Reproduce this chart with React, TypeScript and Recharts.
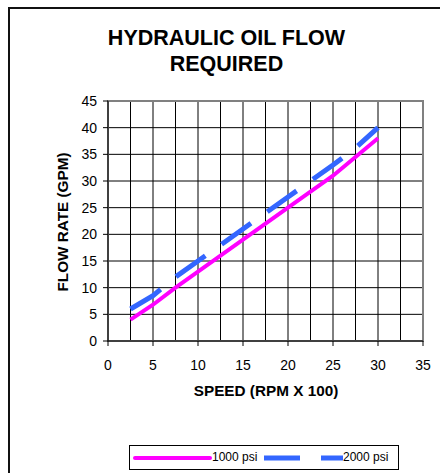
import React from 'react';
import {
  LineChart,
  Line,
  XAxis,
  YAxis,
  CartesianGrid,
  ReferenceArea,
} from 'recharts';

// Speed in RPM x 100
const SPEED = [2.5, 5, 7.5, 10, 12.5, 15, 17.5, 20, 22.5, 25, 27.5, 30];
// Flow rate in GPM
const FLOW_1000 = [4, 6.8, 10, 13, 16, 19, 22, 25, 28, 31, 34.5, 38];
const FLOW_2000 = [6, 8.5, 12, 15, 18, 21, 24, 27, 30, 33, 36.2, 40];

const X_DOMAIN = [0, 35];
const Y_DOMAIN = [0, 45];
const X_TICKS = [0, 5, 10, 15, 20, 25, 30, 35];
const Y_TICKS = [0, 5, 10, 15, 20, 25, 30, 35, 40, 45];
const GRID_X = [0, 2.5, 5, 7.5, 10, 12.5, 15, 17.5, 20, 22.5, 25, 27.5, 30, 32.5, 35];

const SERIES = [
  { key: 'p1000', name: '1000 psi', color: '#ff00ff', width: 4, dash: undefined },
  { key: 'p2000', name: '2000 psi', color: '#3366ff', width: 5, dash: '36 20' },
];

const FONT = '"Liberation Sans", Arial, sans-serif';

// vertical grid every 2.5 while the axis only labels every 5
const gridX = ({ xAxis, offset }: any) =>
  GRID_X.map((v) => {
    if (xAxis && typeof xAxis.scale === 'function') return xAxis.scale(v);
    return offset.left + ((v - X_DOMAIN[0]) / (X_DOMAIN[1] - X_DOMAIN[0])) * offset.width;
  });

export default function App() {
  const data = SPEED.map((s, i) => ({
    speed: s,
    p1000: FLOW_1000[i],
    p2000: FLOW_2000[i],
  }));

  const tickStyle = { fill: '#000', fontSize: 14, fontFamily: FONT };

  return (
    <div
      style={{
        position: 'fixed',
        left: 0,
        top: 0,
        width: 440,
        height: 473,
        overflow: 'hidden',
        background: '#fff',
        fontFamily: FONT,
        color: '#000',
      }}
    >
      {/* outer frame, only left/top edges fall inside the picture */}
      <div
        style={{
          position: 'absolute',
          left: 8,
          top: 7,
          width: 520,
          height: 520,
          borderLeft: '2px solid #111',
          borderTop: '2px solid #111',
        }}
      />

      <div
        style={{
          position: 'absolute',
          left: 0,
          top: 24.5,
          width: 453,
          textAlign: 'center',
          fontSize: 21.5,
          fontWeight: 'bold',
          lineHeight: '26.5px',
        }}
      >
        HYDRAULIC OIL FLOW
        <br />
        REQUIRED
      </div>

      <div style={{ position: 'absolute', left: 0, top: 0 }}>
        <LineChart
          width={440}
          height={473}
          data={data}
          margin={{ top: 101, right: 17, left: 0, bottom: 102 }}
        >
          <CartesianGrid stroke="#000" strokeWidth={1} verticalCoordinatesGenerator={gridX} />
          <ReferenceArea
            x1={X_DOMAIN[0]}
            x2={X_DOMAIN[1]}
            y1={Y_DOMAIN[0]}
            y2={Y_DOMAIN[1]}
            fill="none"
            stroke="#808080"
            strokeWidth={2}
          />
          <XAxis
            dataKey="speed"
            type="number"
            domain={X_DOMAIN}
            ticks={X_TICKS}
            height={30}
            stroke="#000"
            tickSize={5}
            tickMargin={14}
            tick={tickStyle}
          />
          <YAxis
            type="number"
            domain={Y_DOMAIN}
            ticks={Y_TICKS}
            width={108}
            stroke="#000"
            tickSize={5}
            tickMargin={6}
            tick={tickStyle}
          />
          {SERIES.map((s) => (
            <Line
              key={s.key}
              dataKey={s.key}
              name={s.name}
              type="linear"
              stroke={s.color}
              strokeWidth={s.width}
              strokeDasharray={s.dash}
              dot={false}
              activeDot={false}
              isAnimationActive={false}
            />
          ))}
        </LineChart>
      </div>

      {/* axis titles */}
      <div
        style={{
          position: 'absolute',
          left: 266,
          top: 382,
          transform: 'translateX(-50%)',
          whiteSpace: 'nowrap',
          fontSize: 15.3,
          fontWeight: 'bold',
          lineHeight: '17px',
        }}
      >
        SPEED (RPM X 100)
      </div>
      <div
        style={{
          position: 'absolute',
          left: 62,
          top: 222,
          transform: 'translate(-50%, -50%) rotate(-90deg)',
          whiteSpace: 'nowrap',
          fontSize: 15.3,
          fontWeight: 'bold',
          lineHeight: '17px',
        }}
      >
        FLOW RATE (GPM)
      </div>

      {/* legend */}
      <div
        style={{
          position: 'absolute',
          left: 129,
          top: 445,
          width: 268,
          height: 23,
          border: '1px solid #000',
          fontSize: 12,
        }}
      >
        {SERIES.map((s, i) => (
          <React.Fragment key={s.key}>
            <svg
              width={79}
              height={8}
              style={{ position: 'absolute', left: i === 0 ? 3 : 134, top: 8 }}
            >
              <line
                x1={s.dash ? 0 : 2}
                y1={4}
                x2={s.dash ? 79 : 77}
                y2={4}
                stroke={s.color}
                strokeWidth={s.width}
                strokeLinecap={s.dash ? 'butt' : 'round'}
                strokeDasharray={s.dash ? '36 21' : undefined}
              />
            </svg>
            <span
              style={{
                position: 'absolute',
                left: i === 0 ? 82 : 213,
                top: 4,
                lineHeight: '14px',
                whiteSpace: 'nowrap',
              }}
            >
              {s.name}
            </span>
          </React.Fragment>
        ))}
      </div>
    </div>
  );
}
